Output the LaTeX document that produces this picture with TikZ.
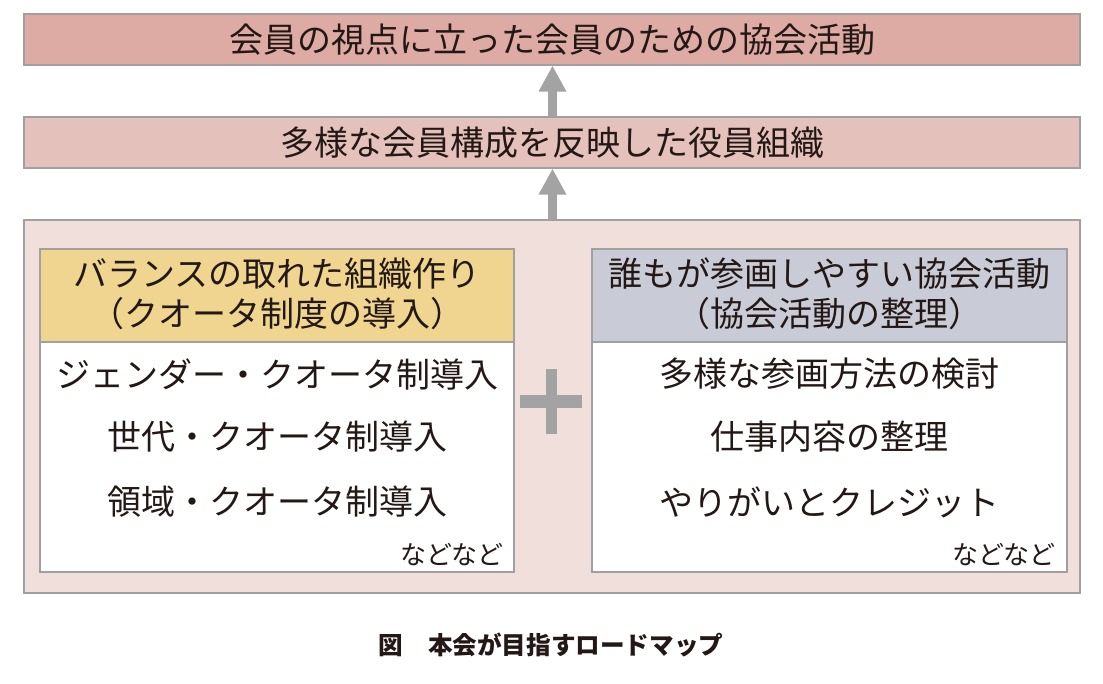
\documentclass[tikz,border=0pt]{standalone}
\usepackage{fontspec}
\setmainfont{Noto Sans CJK JP}
\usetikzlibrary{arrows.meta}
\definecolor{topfill}{HTML}{DDABA3}
\definecolor{midfill}{HTML}{E4C2BB}
\definecolor{outerfill}{HTML}{F0DFDA}
\definecolor{lhead}{HTML}{EFD590}
\definecolor{rhead}{HTML}{C9CCD6}
\definecolor{bordergray}{HTML}{A0A0A0}
\definecolor{arrgray}{HTML}{A3A3A3}
\definecolor{ink}{HTML}{231815}
\tikzset{
  box/.style={draw=bordergray, line width=1.2pt, rectangle, inner sep=0pt, text=ink},
  bigtext/.style={font=\fontsize{34}{40}\selectfont, text=ink, inner sep=0pt},
  smalltext/.style={font=\fontsize{26}{30}\selectfont, text=ink, inner sep=0pt},
  uparrow/.style={draw=arrgray, line width=9pt, -{Triangle[width=26pt,length=26pt]}, arrgray},
  plusbar/.style={fill=arrgray, draw=none}
}
\begin{document}
\begin{tikzpicture}[x=1pt,y=-1pt]
\useasboundingbox (0,0) rectangle (1103,684);
% top boxes
\node[box, fill=topfill, minimum width=1056pt, minimum height=51pt, bigtext] (top) at (552,39.5) {会員の視点に立った会員のための協会活動};
\node[box, fill=midfill, minimum width=1056pt, minimum height=51pt, bigtext] (mid) at (552,142.5) {多様な会員構成を反映した役員組織};
% outer box
\node[box, fill=outerfill, minimum width=1056pt, minimum height=373pt] (outer) at (552,406.5) {};
% left column
\node[box, fill=lhead, minimum width=474pt, minimum height=93pt] (lh) at (277,295.5) {};
\node[box, fill=white, minimum width=474pt, minimum height=230pt] (lb) at (277,457) {};
\node[bigtext] (lh1) at (277,274) {バランスの取れた組織作り};
\node[bigtext] (lh2) at (277,314) {（クオータ制度の導入）};
\node[bigtext] (l1) at (277,374) {ジェンダー・クオータ制導入};
\node[bigtext] (l2) at (277,437) {世代・クオータ制導入};
\node[bigtext] (l3) at (277,502) {領域・クオータ制導入};
\node[smalltext, anchor=east] (l4) at (504,555) {などなど};
% right column
\node[box, fill=rhead, minimum width=475pt, minimum height=93pt] (rh) at (829.5,295.5) {};
\node[box, fill=white, minimum width=475pt, minimum height=230pt] (rb) at (829.5,457) {};
\node[bigtext] (rh1) at (829.5,274) {誰もが参画しやすい協会活動};
\node[bigtext] (rh2) at (829.5,314) {（協会活動の整理）};
\node[bigtext] (r1) at (829.5,374) {多様な参画方法の検討};
\node[bigtext] (r2) at (829.5,437) {仕事内容の整理};
\node[bigtext] (r3) at (829.5,502) {やりがいとクレジット};
\node[smalltext, anchor=east] (r4) at (1056,555) {などなど};
% plus sign
\fill[plusbar] (545.5,369) rectangle (556.5,434);
\fill[plusbar] (520,395) rectangle (582,408);
% arrows
\draw[uparrow] (outer.north -| 552.5,0) -- (mid.south -| 552.5,0);
\draw[uparrow] (mid.north -| 552.5,0) -- (top.south -| 552.5,0);
% caption
\node[font=\fontsize{24.6}{28}\selectfont\bfseries, text=ink, inner sep=0pt] (cap) at (551,645) {図　本会が目指すロードマップ};
\end{tikzpicture}
\end{document}
